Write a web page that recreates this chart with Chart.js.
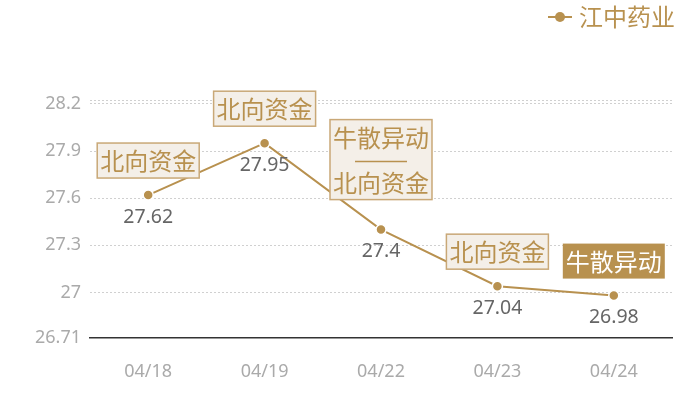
<!DOCTYPE html>
<html>
<head>
<meta charset="utf-8">
<script src="https://cdn.jsdelivr.net/npm/chart.js@4"></script>
<style>
html,body{margin:0;padding:0;background:#fff;}
canvas{display:block;}
</style>
</head>
<body>
<canvas id="c" width="700" height="400"></canvas>
<script>
const seriesName = '江中药业';
const categories = ['04/18', '04/19', '04/22', '04/23', '04/24'];
const prices = [27.62, 27.95, 27.4, 27.04, 26.98];
const yTickValues = [26.71, 27, 27.3, 27.6, 27.9, 28.2];
const yMin = 26.71;
const yMax = 28.225;
const annotations = [['北向资金'], ['北向资金'], ['牛散异动', '北向资金'], ['北向资金'], ['牛散异动']];
const annotationFilled = [false, false, false, false, true];

const GOLD = '#b8914f';
const CJK = '"Noto Sans CJK SC", "Noto Sans", sans-serif';
const NUM = '"Noto Sans", "Noto Sans CJK SC", sans-serif';

const overlay = {
  id: 'overlay',
  afterDatasetsDraw(chart) {
    const ctx = chart.ctx;
    const meta = chart.getDatasetMeta(0);
    ctx.save();
    // value labels
    ctx.font = '19.5px ' + NUM;
    ctx.fillStyle = '#666';
    ctx.textAlign = 'center';
    ctx.textBaseline = 'middle';
    meta.data.forEach((pt, i) => {
      ctx.fillText(String(prices[i]), pt.x, pt.y + 22);
    });
    // annotation boxes
    ctx.font = '24px ' + CJK;
    meta.data.forEach((pt, i) => {
      const lines = annotations[i];
      if (!lines || !lines.length) return;
      const tw = Math.max(...lines.map(t => ctx.measureText(t).width));
      const w = tw + 6;
      const h = 35 + (lines.length - 1) * 45;
      const gap = lines.length > 1 ? 30 : 17;
      const bottom = pt.y - gap;
      const top = bottom - h;
      const left = pt.x - w / 2;
      if (annotationFilled[i]) {
        ctx.fillStyle = GOLD;
        ctx.fillRect(left, top, w, h);
      } else {
        ctx.fillStyle = '#f4efe8';
        ctx.fillRect(left, top, w, h);
        ctx.strokeStyle = '#c9a877';
        ctx.lineWidth = 1.5;
        ctx.strokeRect(left, top, w, h);
      }
      ctx.fillStyle = annotationFilled[i] ? '#fff' : GOLD;
      lines.forEach((t, k) => {
        ctx.fillText(t, pt.x, top + 18 + k * 45);
      });
      for (let k = 1; k < lines.length; k++) {
        const sy = top + 18 + (k - 1) * 45 + 24;
        ctx.strokeStyle = GOLD;
        ctx.lineWidth = 1.5;
        ctx.beginPath();
        ctx.moveTo(pt.x - 26, sy);
        ctx.lineTo(pt.x + 26, sy);
        ctx.stroke();
      }
    });
    // legend
    ctx.font = '24px ' + CJK;
    const lw = ctx.measureText(seriesName).width;
    const tx = chart.width - 25 - lw;
    const ly = 17;
    ctx.textAlign = 'left';
    ctx.fillStyle = GOLD;
    ctx.fillText(seriesName, tx, ly);
    ctx.strokeStyle = GOLD;
    ctx.lineWidth = 2;
    ctx.beginPath();
    ctx.moveTo(tx - 31, ly);
    ctx.lineTo(tx - 7, ly);
    ctx.stroke();
    ctx.beginPath();
    ctx.arc(tx - 19, ly, 5, 0, Math.PI * 2);
    ctx.fill();
    ctx.restore();
  }
};

new Chart(document.getElementById('c'), {
  type: 'line',
  data: {
    labels: categories,
    datasets: [{
      label: seriesName,
      data: prices,
      borderColor: GOLD,
      borderWidth: 2,
      backgroundColor: GOLD,
      pointBackgroundColor: GOLD,
      pointBorderColor: '#fff',
      pointBorderWidth: 1.5,
      pointRadius: 5,
      tension: 0,
      fill: false
    }]
  },
  options: {
    responsive: false,
    animation: false,
    devicePixelRatio: 1,
    layout: { padding: { top: 100, right: 28, bottom: 0, left: 0 } },
    plugins: { legend: { display: false }, tooltip: { enabled: false } },
    scales: {
      x: {
        offset: true,
        grid: { display: false, drawTicks: false },
        border: { display: true, color: '#333', width: 1.5 },
        ticks: { color: '#aaa', font: { family: NUM, size: 18 }, padding: 23 },
        afterFit: s => { s.height = 62; }
      },
      y: {
        min: yMin,
        max: yMax,
        afterBuildTicks: s => { s.ticks = [...yTickValues, yMax].map(v => ({ value: v })); },
        grid: {
          drawTicks: false,
          color: c => (c.tick && c.tick.value === yMin) ? 'rgba(0,0,0,0)' : '#d0d0d0',
          lineWidth: 1
        },
        border: { display: false, dash: [2, 2] },
        ticks: {
          color: '#aaa',
          font: { family: NUM, size: 18 },
          padding: 9,
          callback: v => (v === yMax ? '' : String(v))
        },
        afterFit: s => { s.width = 90; }
      }
    }
  },
  plugins: [overlay]
});
</script>
</body>
</html>
